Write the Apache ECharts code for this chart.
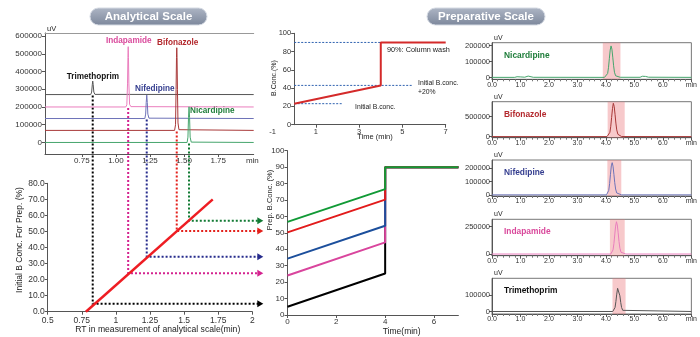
<!DOCTYPE html>
<html><head><meta charset="utf-8">
<script src="https://cdn.jsdelivr.net/npm/echarts@6/dist/echarts.min.js"></script>
<style>html,body{margin:0;padding:0;background:#fff}#c{width:700px;height:337px}</style>
</head><body><div id="c"></div>
<script>
const FONT = "'Liberation Sans',Arial,sans-serif";
const WIDEFONT = "'Liberation Sans','Noto Sans',sans-serif";

// ---------- data ----------
const compounds = ['Trimethoprim', 'Indapamide', 'Nifedipine', 'Bifonazole', 'Nicardipine'];
const rtAnalytical = [0.83, 1.09, 1.226, 1.446, 1.536];          // min
const analyticalOffset = [270000, 200000, 135000, 68000, 0];     // uV baseline offsets
const initialB = [5, 24, 34.3, 50.3, 56.7];                      // %
const endB = [25.3, 44.2, 54.3, 70.2, 76.6];                     // % at 4 min
const washB = 90;
const gradTimes = [0, 4, 4, 7];

// analytical chromatograms (x = min, y = uV)
const aTrimethoprim = [[0.48,270000],[0.815,270000],[0.822,284000],[0.827,328000],[0.83,346000],[0.833,328000],[0.838,284000],[0.846,271000],[2.01,270000]];
const aIndapamide = [[0.48,200000],[1.072,200000],[1.08,212000],[1.085,330000],[1.088,480000],[1.09,540000],[1.092,480000],[1.095,330000],[1.1,215000],[1.11,202000],[2.01,200000]];
const aNifedipine = [[0.48,135000],[1.212,135000],[1.218,160000],[1.222,225000],[1.226,267000],[1.23,225000],[1.234,160000],[1.242,137000],[2.01,135000]];
const aBifonazole = [[0.48,68000],[1.43,68000],[1.437,100000],[1.441,300000],[1.444,480000],[1.446,534000],[1.448,480000],[1.451,300000],[1.455,110000],[1.462,72000],[2.01,68000]];
const aNicardipine = [[0.48,0],[1.522,0],[1.528,30000],[1.532,140000],[1.536,201000],[1.54,140000],[1.544,30000],[1.552,2000],[2.01,0]];
const analyticalTraces = [aTrimethoprim, aIndapamide, aNifedipine, aBifonazole, aNicardipine];

// RT -> initial B conc. calibration line
const calibLine = [[0.78, 0], [1.71, 70]];

// method overview (gradient template)
const templateLine = [[0, 23], [4, 43], [4, 90], [7, 90]];
const templateInitial = [[0, 23], [2.2, 23]];
const templatePlus20 = [[0, 43], [5.45, 43]];
const templateWash = [[0, 90], [4, 90]];

// preparative chromatograms (panels top→bottom)
const panelOrder = ['Nicardipine', 'Bifonazole', 'Nifedipine', 'Indapamide', 'Trimethoprim'];
const pNicardipine = [[0,2000],[0.8,2000],[0.88,6000],[0.93,8000],[0.99,5000],[1.15,3000],[1.22,8000],[1.27,10000],[1.33,6000],[1.45,2500],[3.95,2000],[4.02,8000],[4.06,26000],[4.09,62000],[4.12,118000],[4.15,172000],[4.18,198000],[4.21,178000],[4.24,128000],[4.27,74000],[4.30,34000],[4.34,12000],[4.40,4000],[4.5,2500],[5.2,2500],[5.28,9000],[5.33,11000],[5.39,8000],[5.5,3000],[7,2000]];
const pBifonazole = [[0,3000],[4.04,3000],[4.1,30000],[4.14,110000],[4.17,260000],[4.2,480000],[4.23,700000],[4.26,835000],[4.29,760000],[4.32,560000],[4.35,340000],[4.38,170000],[4.42,60000],[4.47,15000],[4.55,4000],[7,3000]];
const pNifedipine = [[0,1000],[4.02,1000],[4.07,10000],[4.1,35000],[4.13,85000],[4.16,155000],[4.19,218000],[4.22,242000],[4.25,215000],[4.28,155000],[4.31,92000],[4.34,45000],[4.38,15000],[4.44,3000],[4.55,1000],[7,1000]];
const pIndapamide = [[0,2000],[4.17,2000],[4.22,12000],[4.25,40000],[4.28,95000],[4.31,175000],[4.34,255000],[4.37,295000],[4.4,265000],[4.43,195000],[4.46,115000],[4.49,55000],[4.53,18000],[4.59,4000],[4.7,2000],[7,2000]];
const pTrimethoprim = [[0,1000],[4.24,1000],[4.29,8000],[4.32,25000],[4.35,60000],[4.38,105000],[4.41,140000],[4.43,150000],[4.46,135000],[4.49,95000],[4.52,55000],[4.55,25000],[4.59,8000],[4.66,2000],[7,1000]];
const prepTraces = [pNicardipine, pBifonazole, pNifedipine, pIndapamide, pTrimethoprim];
const fractionWindows = [[3.89, 4.51], [4.06, 4.66], [4.05, 4.54], [4.14, 4.66], [4.23, 4.69]];

// tick labels
const analyticalXTicks = [0.75, 1.0, 1.25, 1.5, 1.75, 2.0];
const analyticalYTicks = [0, 100000, 200000, 300000, 400000, 500000, 600000];
const templateXTicks = [-1, 1, 3, 5, 7];
const prepXTicks = [0, 2, 4, 6];
const panelYTicks = [[0, 100000, 200000], [0, 500000], [0, 100000, 200000], [0, 250000], [0, 100000]];
const panelYRange = [[-10000, 218000], [-25000, 875000], [-7500, 262000], [-13000, 317000], [-14000, 200000]];

// ---------- styles ----------
const traceColor = {Trimethoprim:'#555555', Indapamide:'#ea7dbd', Nifedipine:'#6d72b8', Bifonazole:'#a83838', Nicardipine:'#45a56c'};
const labelColor = {Trimethoprim:'#111111', Indapamide:'#d9489b', Nifedipine:'#343d8f', Bifonazole:'#b3282d', Nicardipine:'#1e7d3a'};
const dotColor = {Trimethoprim:'#000000', Indapamide:'#d4238f', Nifedipine:'#262b8c', Bifonazole:'#e3201b', Nicardipine:'#117a33'};
const prepLineColor = {Trimethoprim:'#000000', Indapamide:'#d9459d', Nifedipine:'#1c4f9c', Bifonazole:'#e21b1b', Nicardipine:'#119a36'};

function ax(extra) {
  const base = {
    type: 'value', splitLine: {show: false},
    axisLine: {show: true, onZero: false, lineStyle: {color: '#555', width: 1}},
    axisTick: {show: true, length: 3, lineStyle: {color: '#555'}},
    axisLabel: {fontSize: 8, color: '#333', fontFamily: FONT, margin: 3}
  };
  return echarts.util.merge(base, extra, true);
}
const plain = v => String(v);

const chart = echarts.init(document.getElementById('c'), null, {renderer: 'canvas'});

const grids = [
  {left: 45, top: 33, width: 208.7, height: 121},          // 0 analytical chromatogram
  {left: 47.7, top: 183.3, width: 204.6, height: 128.4},   // 1 calibration
  {left: 294.2, top: 33.3, width: 151.5, height: 91.4},    // 2 gradient template
  {left: 287.5, top: 150.7, width: 170.9, height: 164.3},  // 3 prep gradients
];
const panelTops = [42.7, 101.7, 160, 219.3, 278.3];
const panelHeights = [36.6, 36, 36, 36.4, 35.7];
panelTops.forEach((t, i) => grids.push({left: 492, top: t, width: 202.3, height: panelHeights[i], show: true, borderColor: '#777', borderWidth: 1}));

const templateVisibleTicks = templateXTicks.filter(v => v >= 0);
const xAxes = [
  ax({gridIndex: 0, min: 0.48, max: 2.01,
      axisTick: {customValues: analyticalXTicks.slice(0, 5)},
      axisLabel: {customValues: analyticalXTicks, formatter: v => v >= 1.99 ? 'min' : v.toFixed(2)}}),
  ax({gridIndex: 0, position: 'top', min: 0.48, max: 2.01, axisLine: {lineStyle: {color: '#999'}}, axisTick: {show: false}, axisLabel: {show: false}}),
  ax({gridIndex: 1, min: 0.5, max: 2, interval: 0.25, axisLabel: {fontSize: 8.5, margin: 4}}),
  ax({gridIndex: 2, min: 0, max: 7, axisTick: {customValues: templateVisibleTicks}, axisLabel: {fontSize: 7.5, customValues: templateVisibleTicks}}),
  ax({gridIndex: 3, min: 0, max: 7, axisTick: {customValues: prepXTicks}, axisLabel: {fontSize: 8, customValues: prepXTicks}}),
];
panelTops.forEach((t, i) => xAxes.push(ax({gridIndex: 4 + i, min: 0, max: 7, interval: 1,
  minorTick: {show: true, splitNumber: 5, length: 2, lineStyle: {color: '#777'}},
  axisLabel: {fontSize: 7, margin: 2, formatter: v => v === 7 ? 'min' : v.toFixed(1)}})));

const yAxes = [
  ax({gridIndex: 0, min: -65000, max: 617000, axisTick: {customValues: analyticalYTicks}, axisLabel: {customValues: analyticalYTicks, formatter: plain}}),
  ax({gridIndex: 1, min: 0, max: 80, interval: 10, axisLabel: {fontSize: 8.5, formatter: v => v.toFixed(1)}}),
  ax({gridIndex: 2, min: 0, max: 100, interval: 20, axisLabel: {fontSize: 7.5}}),
  ax({gridIndex: 3, min: 0, max: 100, interval: 10, axisLabel: {fontSize: 8}}),
];
panelTops.forEach((t, i) => yAxes.push(ax({gridIndex: 4 + i, min: panelYRange[i][0], max: panelYRange[i][1],
  axisTick: {customValues: panelYTicks[i]}, axisLabel: {fontSize: 7.5, margin: 2, customValues: panelYTicks[i], formatter: plain}})));

const series = [];
compounds.forEach((name, i) => series.push({
  type: 'line', name: 'a-' + name, xAxisIndex: 0, yAxisIndex: 0, data: analyticalTraces[i],
  symbol: 'none', lineStyle: {color: traceColor[name], width: 1}, silent: true, z: 3
}));
series.push({type: 'line', xAxisIndex: 2, yAxisIndex: 1, data: calibLine, symbol: 'none',
  lineStyle: {color: '#ee1d23', width: 2.5}, z: 6});
[templateInitial, templatePlus20, templateWash].forEach(d => series.push({
  type: 'line', xAxisIndex: 3, yAxisIndex: 2, data: d, symbol: 'none',
  lineStyle: {color: '#2f62b0', width: 1, type: [2, 1.5]}, z: 2}));
series.push({type: 'line', xAxisIndex: 3, yAxisIndex: 2, data: templateLine, symbol: 'none',
  lineStyle: {color: '#d42a2a', width: 2}, z: 4});
compounds.forEach((name, i) => series.push({
  type: 'line', xAxisIndex: 4, yAxisIndex: 3, symbol: 'none', z: 3 + i,
  data: gradTimes.map((t, k) => [t, k === 0 ? initialB[i] : k === 1 ? endB[i] : washB]),
  lineStyle: {color: prepLineColor[name], width: 2}
}));
panelOrder.forEach((name, i) => series.push({
  type: 'line', xAxisIndex: 5 + i, yAxisIndex: 4 + i, data: prepTraces[i], symbol: 'none',
  lineStyle: {color: traceColor[name], width: 1}, z: 3,
  markArea: {silent: true, itemStyle: {color: 'rgba(235,120,125,0.4)'},
    data: [[{xAxis: fractionWindows[i][0]}, {xAxis: fractionWindows[i][1]}]]}
}));

chart.setOption({animation: false, textStyle: {fontFamily: FONT}, grid: grids, xAxis: xAxes, yAxis: yAxes, series: series});

// ---------- annotations ----------
const g = [];
function txt(x, y, s, o) {
  const el = {type: 'text', x: x, y: y, silent: true, style: Object.assign({text: s, fontFamily: FONT, fontSize: 8, fill: '#222', align: 'left', verticalAlign: 'middle'}, o || {})};
  if (o && o.rotation) { el.rotation = o.rotation; delete el.style.rotation; }
  g.push(el);
}
function pill(x, y, w, h, s) {
  g.push({type: 'rect', shape: {x: x, y: y, width: w, height: h, r: h / 2}, silent: true,
    style: {fill: new echarts.graphic.LinearGradient(0, 0, 0, 1, [{offset: 0, color: '#aeb6c5'}, {offset: 1, color: '#7c879b'}]), stroke: '#d5dae3', lineWidth: 1}});
  g.push({type: 'text', x: x + w / 2, y: y + h / 2 + 0.5, silent: true,
    style: {text: s, fill: '#fff', fontFamily: WIDEFONT, fontWeight: 'bold', fontSize: 11.5, align: 'center', verticalAlign: 'middle'}});
}
pill(90, 8, 117, 17, 'Analytical Scale');
pill(427, 8, 118, 17, 'Preparative Scale');

// analytical peak labels
const peakLabelPos = {Trimethoprim: [66.7, 77], Indapamide: [106, 41], Bifonazole: [157, 43], Nifedipine: [135, 89], Nicardipine: [190, 111]};
compounds.forEach(n => txt(peakLabelPos[n][0], peakLabelPos[n][1], n, {fill: labelColor[n], fontWeight: 'bold', fontSize: 8.2}));
txt(47, 29, 'uV', {fontSize: 7.5});

// prep panel labels
panelOrder.forEach((n, i) => {
  txt(504, panelTops[i] + 12.5, n, {fill: labelColor[n], fontWeight: 'bold', fontSize: 8.4});
  txt(494, panelTops[i] - 5, 'uV', {fontSize: 7});
});

// gradient-template tick labels left of the y axis (placed through the axis scale)
templateXTicks.filter(v => v < 0).forEach(v => {
  const p = chart.convertToPixel({xAxisIndex: 3, yAxisIndex: 2}, [v, 0]);
  txt(p[0], p[1] + 3, String(v), {align: 'center', verticalAlign: 'top', fontSize: 7.5, fill: '#333'});
});

// axis names
txt(20, 240, 'Initial B Conc. For Prep. (%)', {align: 'center', fontSize: 8.5, rotation: Math.PI / 2});
txt(157.7, 330, 'RT in measurement of analytical scale(min)', {align: 'center', fontSize: 8.6});
txt(274, 78, 'B.Conc.(%)', {align: 'center', fontSize: 7, rotation: Math.PI / 2});
txt(375, 137, 'Time (min)', {align: 'center', fontSize: 7.5});
txt(270, 200, 'Prep. B.Conc. (%)', {align: 'center', fontSize: 7.5, rotation: Math.PI / 2});
txt(401.7, 331.5, 'Time(min)', {align: 'center', fontSize: 8.5});
txt(387, 50, '90%: Column wash', {fontSize: 7.3});
txt(418, 82.7, 'Initial B.conc.', {fontSize: 6.8});
txt(418, 92, '+20%', {fontSize: 6.8});
txt(355, 107, 'Initial B.conc.', {fontSize: 6.8});

// dotted transfer lines with arrows (positions through the chart's own scales)
compounds.forEach((n, i) => {
  const top = chart.convertToPixel({xAxisIndex: 0, yAxisIndex: 0}, [rtAnalytical[i], analyticalOffset[i]]);
  const bot = chart.convertToPixel({xAxisIndex: 2, yAxisIndex: 1}, [rtAnalytical[i], initialB[i]]);
  const xEnd = chart.convertToPixel({xAxisIndex: 2, yAxisIndex: 1}, [2, 0])[0] + 11;
  g.push({type: 'polyline', silent: true, z: 1,
    shape: {points: [[bot[0], top[1] + 1], [bot[0], bot[1]], [xEnd - 5, bot[1]]]},
    style: {stroke: dotColor[n], lineWidth: 2, lineDash: [2, 2], fill: null}});
  g.push({type: 'polygon', silent: true, z: 1,
    shape: {points: [[xEnd, bot[1]], [xEnd - 6, bot[1] - 3.5], [xEnd - 6, bot[1] + 3.5]]},
    style: {fill: dotColor[n]}});
});

chart.setOption({graphic: g});
</script></body></html>
